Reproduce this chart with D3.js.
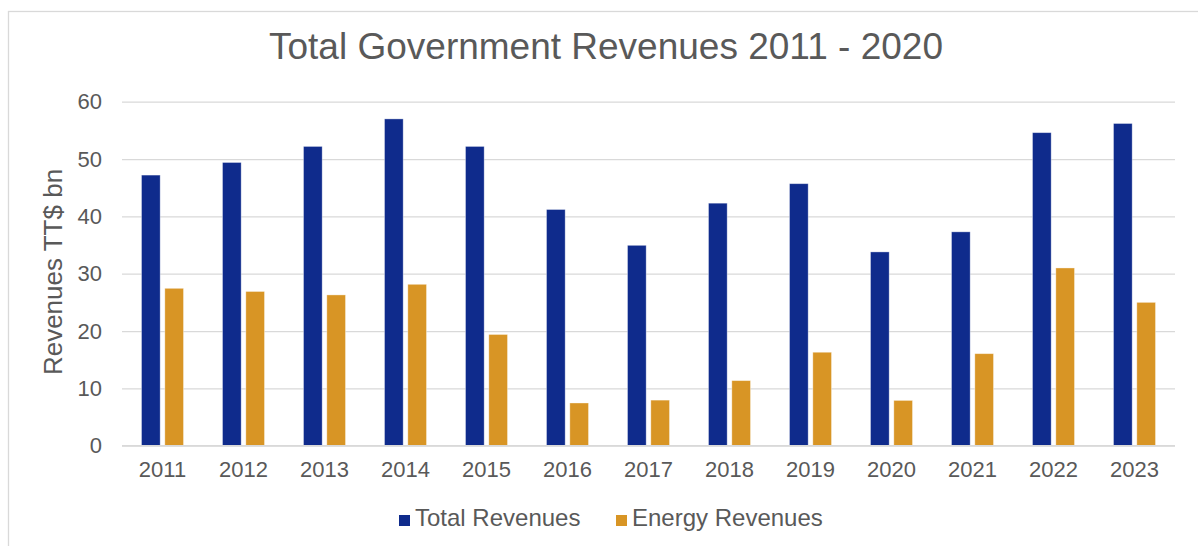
<!DOCTYPE html>
<html>
<head>
<meta charset="utf-8">
<script src="https://cdn.jsdelivr.net/npm/d3@7"></script>
<style>
  html, body { margin: 0; padding: 0; background: #fff; }
  svg { display: block; }
  text { font-family: "Liberation Sans", Arial, Helvetica, sans-serif; fill: #595959; }
</style>
</head>
<body>
<svg id="chart" width="1198" height="546"></svg>
<script>
const years = ["2011","2012","2013","2014","2015","2016","2017","2018","2019","2020","2021","2022","2023"];
const totalRevenues = [47.2, 49.4, 52.2, 57.0, 52.2, 41.2, 34.95, 42.3, 45.7, 33.8, 37.3, 54.6, 56.2];
const energyRevenues = [27.45, 26.9, 26.3, 28.15, 19.4, 7.45, 7.95, 11.35, 16.3, 7.9, 16.05, 31.0, 25.0];
const yTicks = [0, 10, 20, 30, 40, 50, 60];
const seriesNames = ["Total Revenues", "Energy Revenues"];
const seriesColors = ["#0F2B8C", "#D89525"];
const titleText = "Total Government Revenues 2011 - 2020";
const yAxisTitle = "Revenues TT$ bn";

const svg = d3.select("#chart");

// outer chart frame
svg.append("rect")
  .attr("x", 8.5).attr("y", 11.5)
  .attr("width", 1220).attr("height", 560)
  .attr("fill", "#fff")
  .attr("stroke", "#D9D9D9").attr("stroke-width", 1.3);

const plotLeft = 122, plotRight = 1175, plotTop = 101.7, plotBottom = 445.7;

const y = d3.scaleLinear().domain([0, 60]).range([plotBottom, plotTop]);
const x0 = d3.scaleBand().domain(years).range([plotLeft, plotRight]).padding(0);
const groupW = 42;
const x1 = d3.scaleBand().domain(seriesNames).range([0, groupW]).paddingInner(0.2).paddingOuter(0);

// gridlines
const grid = svg.append("g")
  .attr("transform", `translate(${plotLeft},0)`)
  .call(d3.axisLeft(y).tickValues(yTicks).tickSize(-(plotRight - plotLeft)).tickFormat(""));
grid.select(".domain").remove();
grid.selectAll(".tick line").attr("stroke", "#D9D9D9").attr("stroke-width", 1.3);

// y tick labels
const yAxis = svg.append("g")
  .attr("transform", `translate(${plotLeft - 20},0)`)
  .call(d3.axisLeft(y).tickValues(yTicks).tickSize(0).tickPadding(0));
yAxis.select(".domain").remove();
yAxis.selectAll("text")
  .attr("font-size", 22)
  .attr("fill", "#595959")
  .style("font-family", '"Liberation Sans", Arial, sans-serif');

// bars
const data = years.map((yr, i) => ({ year: yr, values: [totalRevenues[i], energyRevenues[i]] }));
const groups = svg.append("g").selectAll("g")
  .data(data).join("g")
  .attr("transform", d => `translate(${x0(d.year) + (x0.bandwidth() - groupW) / 2},0)`);
groups.selectAll("rect")
  .data(d => d.values.map((v, j) => ({ name: seriesNames[j], value: v, color: seriesColors[j] })))
  .join("rect")
  .attr("x", d => x1(d.name))
  .attr("width", x1.bandwidth())
  .attr("y", d => y(d.value))
  .attr("height", d => y(0) - y(d.value))
  .attr("fill", d => d.color)
  .attr("stroke", "rgba(255,255,255,0.45)")
  .attr("stroke-width", 0.8);

// baseline axis line
svg.append("line")
  .attr("x1", plotLeft).attr("x2", plotRight)
  .attr("y1", y(0)).attr("y2", y(0))
  .attr("stroke", "#D9D9D9").attr("stroke-width", 1.6);

// x axis labels
const xAxis = svg.append("g")
  .attr("transform", `translate(0,${plotBottom})`)
  .call(d3.axisBottom(x0).tickSize(0).tickPadding(0));
xAxis.select(".domain").remove();
xAxis.selectAll("text")
  .attr("dy", null)
  .attr("y", 31)
  .attr("font-size", 22)
  .attr("fill", "#595959")
  .style("font-family", '"Liberation Sans", Arial, sans-serif');

// title
svg.append("text")
  .attr("x", 606).attr("y", 59)
  .attr("text-anchor", "middle")
  .attr("font-size", 37)
  .text(titleText);

// y axis title
svg.append("text")
  .attr("transform", "translate(62,272) rotate(-90)")
  .attr("text-anchor", "middle")
  .attr("font-size", 26)
  .text(yAxisTitle);

// legend
const legendX = [399, 616];
const legend = svg.append("g").selectAll("g")
  .data(seriesNames).join("g")
  .attr("transform", (d, i) => `translate(${legendX[i]},0)`);
legend.append("rect")
  .attr("x", 0).attr("y", 515)
  .attr("width", 11).attr("height", 11)
  .attr("fill", (d, i) => seriesColors[i]);
legend.append("text")
  .attr("x", 16).attr("y", 525.7)
  .attr("font-size", 24)
  .text(d => d);
</script>
</body>
</html>
